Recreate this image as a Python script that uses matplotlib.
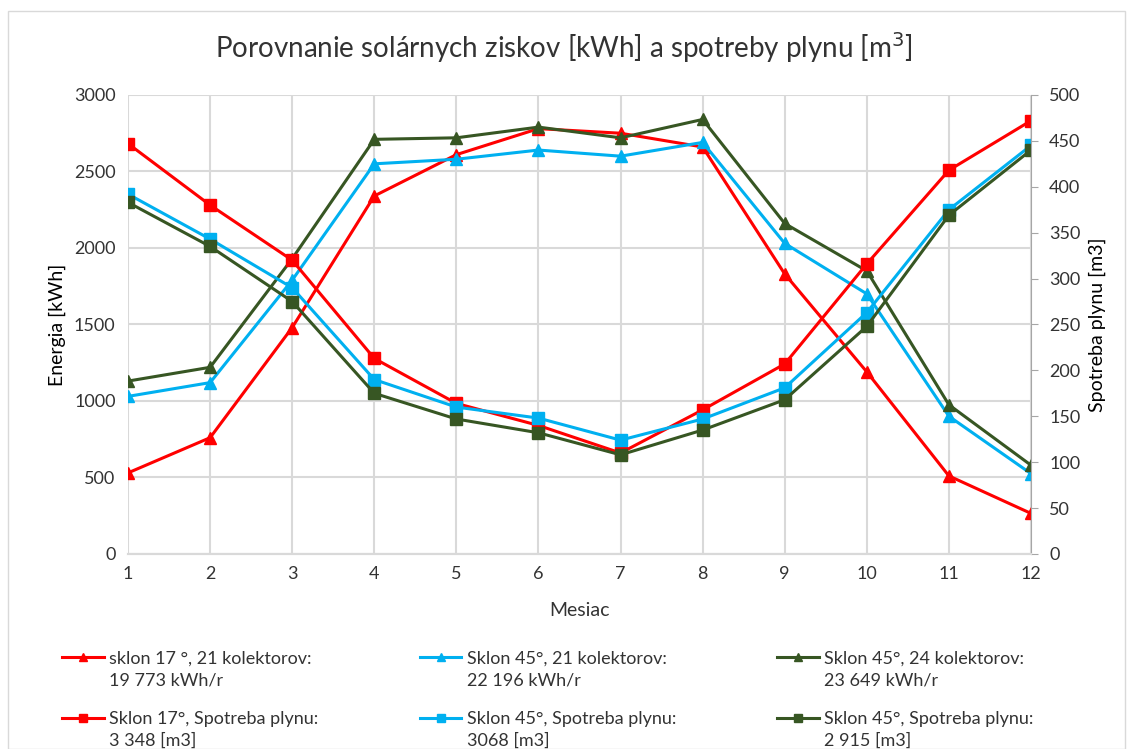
import matplotlib.pyplot as plt
from matplotlib.patches import Rectangle

plt.rcParams["font.family"] = ["Lato", "DejaVu Sans"]

months = list(range(1, 13))

# solar gains [kWh] (left axis)
gain_17_21 = [530, 760, 1480, 2340, 2610, 2780, 2750, 2660, 1830, 1190, 510, 265]
gain_45_21 = [1030, 1120, 1790, 2550, 2580, 2640, 2600, 2690, 2030, 1700, 900, 525]
gain_45_24 = [1130, 1220, 1930, 2710, 2720, 2790, 2720, 2840, 2160, 1850, 975, 580]

# gas consumption [m3] (right axis)
gas_17 = [447, 380, 320, 213, 164, 140, 110, 157, 207, 316, 418, 472]
gas_45 = [392, 343, 290, 190, 160, 148, 124, 147, 181, 263, 375, 445]
gas_45_24 = [383, 335, 275, 175, 147, 132, 108, 135, 168, 248, 369, 440]

labels_gain = [
	"sklon 17 °, 21 kolektorov:\n19 773 kWh/r",
	"Sklon 45°, 21 kolektorov:\n22 196 kWh/r",
	"Sklon 45°, 24 kolektorov:\n23 649 kWh/r",
]
labels_gas = [
	"Sklon 17°, Spotreba plynu:\n3 348 [m3]",
	"Sklon 45°, Spotreba plynu:\n3068 [m3]",
	"Sklon 45°, Spotreba plynu:\n2 915 [m3]",
]

RED = "#FF0000"
BLUE = "#00B0F0"
GREEN = "#375623"
GRID = "#D9D9D9"
TEXT = "#333333"

fig = plt.figure(figsize=(11.28, 7.49), dpi=100)
ax = fig.add_axes([0.1135, 0.2604, 0.8005, 0.6128])
ax2 = ax.twinx()

colors = [RED, BLUE, GREEN]
handles = []
for vals, gas, c, lg, lq in zip([gain_17_21, gain_45_21, gain_45_24],
								[gas_17, gas_45, gas_45_24], colors,
								labels_gain, labels_gas):
	h1, = ax.plot(months, vals, color=c, lw=2.2, marker="^", ms=9, label=lg)
	h2, = ax2.plot(months, gas, color=c, lw=2.2, marker="s", ms=9, label=lq)
	handles.append((h1, h2))

ax.set_xlim(1, 12)
ax.set_ylim(0, 3000)
ax2.set_ylim(0, 500)
ax.set_xticks(months)
ax.set_yticks(range(0, 3001, 500))
ax2.set_yticks(range(0, 501, 50))

ax.grid(True, color=GRID, lw=1.5)
ax.set_axisbelow(True)
for a in (ax, ax2):
	for s in ("top", "left", "right"):
		a.spines[s].set_visible(False)
	a.spines["bottom"].set_color(GRID)
	a.spines["bottom"].set_linewidth(1.5)
ax2.spines["right"].set_visible(True)
ax2.spines["right"].set_color("#A6A6A6")

ax.tick_params(axis="both", length=0, labelsize=13, labelcolor=TEXT, pad=9)
ax2.tick_params(axis="y", length=5, color="#A6A6A6", labelsize=13, labelcolor=TEXT, pad=8)

ax.set_xlabel("Mesiac", fontsize=14, color=TEXT, labelpad=14)
ax.set_ylabel("Energia [kWh]", fontsize=14, color="#000000", labelpad=6)
ax2.set_ylabel("Spotreba plynu [m3]", fontsize=14, color="#000000", labelpad=6)

fig.text(0.5, 0.936, "Porovnanie solárnych ziskov [kWh] a spotreby plynu [m$^{3}$]",
		 ha="center", va="center", fontsize=20, color=TEXT)

# legend: first line next to the handle, second line added below it
order = [handles[0][0], handles[0][1], handles[1][0], handles[1][1],
		 handles[2][0], handles[2][1]]
full_labels = [h.get_label() for h in order]
leg = fig.legend(handles=order, labels=[s.split("\n")[0] for s in full_labels], ncol=3,
				 loc="upper left", bbox_to_anchor=(0.041, 0.153), frameon=False,
				 fontsize=13, handlelength=2.3, handletextpad=0.3, columnspacing=5.6,
				 labelspacing=2.45, markerscale=0.65, labelcolor=TEXT)

fig.canvas.draw()
W, H = fig.bbox.width, fig.bbox.height
for t, s in zip(leg.get_texts(), full_labels):
	bb = t.get_window_extent()
	yc = (bb.y0 + bb.y1) / 2 - 22
	fig.text(bb.x0 / W, yc / H, s.split("\n")[1], ha="left", va="center",
			 fontsize=13, color=TEXT)

fig.patches.append(Rectangle((0.007, 0.0), 0.99, 0.985, transform=fig.transFigure,
							 fill=False, edgecolor="#D9D9D9", lw=1))

fig.savefig("out.png", dpi=100)
